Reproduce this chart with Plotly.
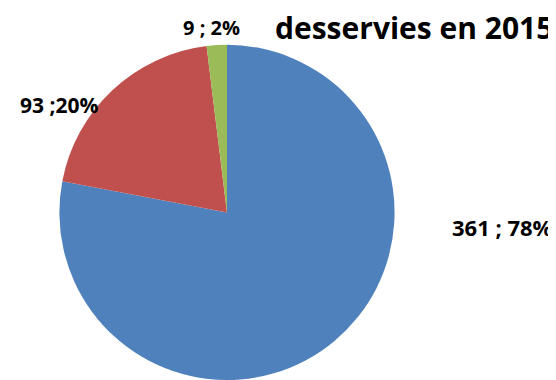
import plotly.graph_objects as go

labels = ["A", "B", "C"]
values = [361, 93, 9]
label_texts = ["361 ; 78%", "93 ;20%", "9 ; 2%"]
colors = ["#4F81BD", "#C0504D", "#9BBB59"]
title_text = "desservies en 2015"

fig = go.Figure()
fig.add_trace(go.Pie(
    labels=labels, values=values, sort=False, direction="clockwise", rotation=0,
    marker=dict(colors=colors, line=dict(width=0)),
    textinfo="none", hoverinfo="label+value+percent", showlegend=False,
    domain=dict(x=[0.0917, 0.696], y=[0.021, 0.903]),
))

label_pos = [(494, 219), (51, 97), (203, 20)]
label_sizes = [22, 21, 20]
for t, (px, py), s in zip(label_texts, label_pos, label_sizes):
    fig.add_annotation(x=px / 556, y=1 - py / 380, xref="paper", yref="paper",
                       text="<b>" + t + "</b>", showarrow=False,
                       font=dict(family="Open Sans, Liberation Sans, sans-serif", size=s, color="#000000"),
                       xanchor="center", yanchor="middle")

fig.add_annotation(x=265 / 556, y=1 - 19 / 380, xref="paper", yref="paper",
                   text="<b>" + title_text + "</b>", showarrow=False,
                   font=dict(family="Open Sans, Liberation Sans, sans-serif", size=30, color="#000000"),
                   xanchor="left", yanchor="middle")

fig.update_layout(width=556, height=380, margin=dict(l=0, r=0, t=0, b=0),
                  paper_bgcolor="white", plot_bgcolor="white")
fig.write_html("out.html")
